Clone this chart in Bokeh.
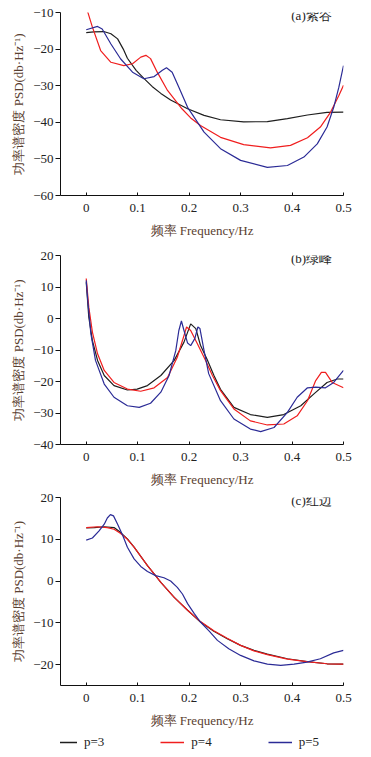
from bokeh.plotting import figure
from bokeh.layouts import column
from bokeh.models import Range1d, FixedTicker, Label, Legend, LegendItem
from bokeh.embed import file_html
from bokeh.resources import INLINE

# ---------------- data ----------------
x_ticks = [0, 0.1, 0.2, 0.3, 0.4, 0.5]
x_tick_labels = ["0", "0.1", "0.2", "0.3", "0.4", "0.5"]
series_names = ["p=3", "p=4", "p=5"]
panel_titles = ["(a)紫谷", "(b)绿峰", "(c)红边"]

# panel a
fa_p3 = [0, 0.015, 0.034, 0.048, 0.061, 0.072, 0.08, 0.097, 0.112, 0.128, 0.145, 0.164, 0.197, 0.229, 0.261, 0.306, 0.352, 0.391, 0.43, 0.468, 0.5]
a_p3 = [-15.5, -15.3, -15.2, -15.8, -17.2, -20.0, -22.5, -25.8, -28.0, -30.2, -32.1, -33.9, -36.3, -38.1, -39.3, -39.9, -39.8, -39.0, -38.0, -37.3, -37.2]
fa_p4 = [0, 0.012, 0.028, 0.048, 0.073, 0.09, 0.106, 0.116, 0.125, 0.138, 0.158, 0.186, 0.203, 0.222, 0.261, 0.306, 0.358, 0.397, 0.43, 0.455, 0.475, 0.491, 0.5]
a_p4 = [-8.5, -14.0, -20.4, -23.6, -24.5, -24.0, -22.2, -21.7, -22.6, -26.3, -31.3, -36.3, -38.8, -40.9, -44.1, -46.1, -47.0, -46.3, -44.2, -41.3, -37.2, -32.7, -29.9]
fa_p5 = [0, 0.022, 0.031, 0.048, 0.067, 0.09, 0.112, 0.132, 0.148, 0.156, 0.167, 0.18, 0.197, 0.229, 0.261, 0.3, 0.352, 0.391, 0.423, 0.449, 0.468, 0.481, 0.491, 0.5]
a_p5 = [-14.7, -13.8, -14.5, -18.6, -22.7, -26.3, -28.1, -27.5, -25.8, -25.1, -26.3, -30.4, -35.9, -42.7, -47.2, -50.4, -52.3, -51.8, -49.5, -45.9, -41.3, -35.9, -30.4, -24.5]
a_yticks = [-60, -50, -40, -30, -20, -10]

# panel b
fb_p3 = [0, 0.005, 0.012, 0.022, 0.035, 0.054, 0.08, 0.099, 0.119, 0.145, 0.171, 0.19, 0.203, 0.213, 0.222, 0.235, 0.248, 0.261, 0.287, 0.319, 0.352, 0.384, 0.417, 0.442, 0.468, 0.488, 0.5]
b_p3 = [11.5, 0.4, -7.0, -13.3, -18.1, -21.3, -22.7, -22.4, -21.3, -18.1, -13.3, -7.5, -1.7, -3.2, -8.5, -13.0, -18.0, -22.5, -28.2, -30.5, -31.4, -30.5, -27.7, -24.0, -20.3, -19.2, -19.2]
fb_p4 = [0, 0.005, 0.012, 0.022, 0.035, 0.054, 0.08, 0.106, 0.132, 0.158, 0.177, 0.187, 0.195, 0.203, 0.216, 0.232, 0.245, 0.261, 0.287, 0.319, 0.352, 0.384, 0.41, 0.43, 0.446, 0.457, 0.465, 0.478, 0.5]
b_p4 = [12.7, 3.6, -4.3, -11.2, -16.5, -20.3, -22.4, -23.1, -22.0, -18.7, -12.3, -7.0, -2.7, -3.8, -8.0, -13.3, -18.0, -22.9, -28.7, -32.5, -33.8, -33.5, -30.9, -26.1, -19.7, -17.1, -17.1, -20.3, -22.0]
fb_p5 = [0, 0.003, 0.009, 0.018, 0.035, 0.054, 0.08, 0.103, 0.125, 0.145, 0.161, 0.174, 0.18, 0.185, 0.19, 0.197, 0.203, 0.211, 0.217, 0.221, 0.229, 0.238, 0.261, 0.287, 0.319, 0.339, 0.365, 0.391, 0.41, 0.43, 0.446, 0.465, 0.481, 0.5]
b_p5 = [12.1, 5.8, -4.8, -13.3, -20.8, -25.0, -27.7, -28.2, -26.9, -23.4, -18.1, -10.2, -3.8, -0.8, -3.8, -7.8, -8.6, -6.4, -2.7, -3.2, -10.2, -17.5, -26.1, -31.9, -35.1, -35.9, -34.6, -29.8, -25.0, -22.0, -21.8, -22.0, -20.3, -16.5]
b_yticks = [-40, -30, -20, -10, 0, 10, 20]

# panel c
fc_p3 = [0, 0.016, 0.035, 0.054, 0.067, 0.08, 0.093, 0.106, 0.119, 0.132, 0.145, 0.158, 0.171, 0.197, 0.222, 0.248, 0.274, 0.3, 0.326, 0.352, 0.391, 0.429, 0.468, 0.5]
c_p3 = [12.7, 12.8, 13.0, 12.8, 11.6, 10.1, 8.1, 5.9, 3.7, 1.7, -0.3, -2.1, -3.9, -7.0, -9.8, -12.0, -13.8, -15.4, -16.6, -17.5, -18.6, -19.3, -19.8, -19.9]
fc_p4 = [0, 0.022, 0.041, 0.054, 0.067, 0.08, 0.093, 0.106, 0.119, 0.132, 0.145, 0.158, 0.171, 0.197, 0.222, 0.248, 0.274, 0.3, 0.326, 0.352, 0.391, 0.429, 0.468, 0.5]
c_p4 = [12.8, 13.0, 12.8, 12.4, 11.4, 10.0, 8.1, 5.9, 3.7, 1.7, -0.3, -2.1, -3.9, -7.0, -9.7, -11.9, -13.7, -15.4, -16.7, -17.6, -18.7, -19.3, -19.8, -19.9]
fc_p5 = [0, 0.012, 0.025, 0.035, 0.041, 0.047, 0.053, 0.061, 0.071, 0.08, 0.093, 0.106, 0.119, 0.135, 0.151, 0.164, 0.177, 0.187, 0.197, 0.21, 0.222, 0.239, 0.255, 0.277, 0.3, 0.326, 0.352, 0.378, 0.404, 0.429, 0.455, 0.481, 0.5]
c_p5 = [9.8, 10.3, 12.0, 13.6, 15.1, 15.9, 15.6, 13.6, 10.9, 8.1, 5.3, 3.5, 2.3, 1.3, 0.8, 0.0, -1.5, -3.1, -5.4, -7.8, -9.8, -12.0, -14.2, -16.2, -17.8, -19.1, -19.9, -20.2, -19.9, -19.4, -18.6, -17.2, -16.6]
c_yticks = [-20, -10, 0, 10, 20]

# ---------------- style ----------------
COLORS = ["#1e1e1e", "#f01e1e", "#2b2b96"]
SERIF = "Liberation Serif"
LABEL_COLOR = "#5a4030"
YLABEL = "功率谱密度 PSD(db·Hz⁻¹)"
XLABEL = "频率 Frequency/Hz"
W = 363


def fmt(v):
    return str(v).replace("-", "−")


def make_panel(title, series, yr, yticks, height, top, bottom):
    p = figure(width=W, height=height, output_backend="svg", toolbar_location=None,
               x_range=Range1d(-0.05, 0.5), y_range=Range1d(*yr),
               min_border_left=60, min_border_right=20,
               min_border_top=top, min_border_bottom=bottom)
    p.outline_line_color = None
    p.grid.visible = False

    p.xaxis.ticker = FixedTicker(ticks=x_ticks)
    p.xaxis.major_label_overrides = {t: l for t, l in zip(x_ticks, x_tick_labels)}
    p.xaxis.major_tick_in = 3
    p.xaxis.major_tick_out = 0
    p.xaxis.minor_tick_line_color = None
    p.xaxis.major_label_standoff = 8
    p.xaxis.axis_label = XLABEL
    p.xaxis.axis_label_standoff = 8

    p.yaxis.ticker = FixedTicker(ticks=yticks)
    p.yaxis.major_label_overrides = {t: fmt(t) for t in yticks}
    p.yaxis.major_tick_in = 0
    p.yaxis.major_tick_out = 5
    p.yaxis.minor_tick_line_color = None
    p.yaxis.major_label_standoff = 2
    p.yaxis.axis_label = YLABEL
    p.yaxis.axis_label_standoff = 4

    for ax in (p.xaxis, p.yaxis):
        ax.axis_line_color = "#111111"
        ax.major_tick_line_color = "#111111"
        ax.major_label_text_font = SERIF
        ax.major_label_text_font_size = "13px"
        ax.major_label_text_color = "#222222"
        ax.axis_label_text_font = SERIF
        ax.axis_label_text_font_size = "13px"
        ax.axis_label_text_font_style = "normal"
        ax.axis_label_text_color = LABEL_COLOR

    for (xs, ys), c in zip(series, COLORS):
        p.line(xs, ys, line_color=c, line_width=1.2)

    fh = height - top - bottom
    p.add_layout(Label(x=251, y=fh - 3, x_units="screen", y_units="screen", text=title,
                       text_font=SERIF, text_font_size="13px", text_color="#222222",
                       text_align="center", text_baseline="middle"))
    return p


pa = make_panel(panel_titles[0], [(fa_p3, a_p3), (fa_p4, a_p4), (fa_p5, a_p5)],
                (-60, -10), a_yticks, 240, 12, 45)
pb = make_panel(panel_titles[1], [(fb_p3, b_p3), (fb_p4, b_p4), (fb_p5, b_p5)],
                (-40, 20), b_yticks, 250, 15, 46)
pc_series = [(fc_p3, c_p3), (fc_p4, c_p4), (fc_p5, c_p5)]
pc = make_panel(panel_titles[2], pc_series, (-25, 20), c_yticks, 240, 7, 45)

# legend strip below the last panel (its lines sit outside the strip's ranges, so only the key shows)
pl = figure(width=W, height=27, output_backend="svg", toolbar_location=None,
            x_range=Range1d(10, 11), y_range=Range1d(100, 101), min_border=0)
pl.axis.visible = False
pl.grid.visible = False
pl.outline_line_color = None
leg_r = [pl.line(xs, ys, line_color=c, line_width=1.5) for (xs, ys), c in zip(pc_series, COLORS)]
legend = Legend(items=[LegendItem(label=n, renderers=[r]) for n, r in zip(series_names, leg_r)],
                orientation="horizontal", location=(-7, 5),
                border_line_color=None, background_fill_alpha=0,
                label_text_font=SERIF, label_text_font_size="13px", label_text_color="#222222",
                glyph_width=24, label_standoff=7, spacing=56, padding=0, margin=0)
pl.add_layout(legend, "center")

layout = column(pa, pb, pc, pl, spacing=0)
open("out.html", "w").write(file_html(layout, INLINE))
